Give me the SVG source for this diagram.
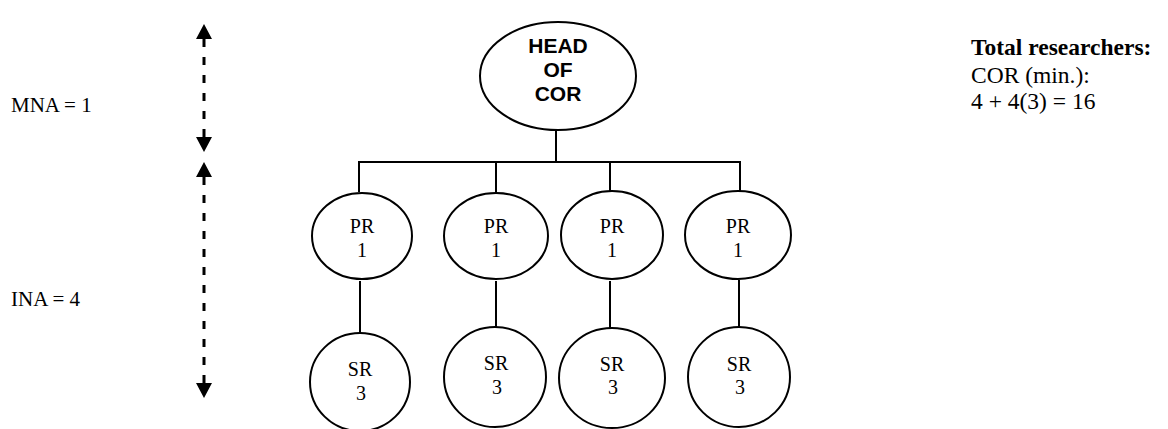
<svg xmlns="http://www.w3.org/2000/svg" width="1168" height="429" viewBox="0 0 1168 429">
<style>
.shape{fill:#fff;stroke:#000;stroke-width:2}
.conn{stroke:#000;stroke-width:2;fill:none}
.dash{stroke:#000;stroke-width:3;stroke-dasharray:8 10;fill:none}
.serif{font-family:"Liberation Serif","Times New Roman",serif;font-size:20px;fill:#000}
.side{font-family:"Liberation Serif","Times New Roman",serif;font-size:21px;fill:#000}
.head{font-family:"Liberation Sans",Arial,sans-serif;font-size:21px;font-weight:bold;fill:#000}
.note{font-family:"Liberation Serif","Times New Roman",serif;font-size:23.5px;fill:#000}
.c{text-anchor:middle}
</style>
<defs>
<marker id="ah" viewBox="0 0 16 16" refX="0" refY="8" markerWidth="16" markerHeight="16" markerUnits="userSpaceOnUse" orient="auto-start-reverse">
<path d="M0,0 L15,8 L0,16 z" fill="#000"/>
</marker>
</defs>
<rect width="1168" height="429" fill="#fff"/>
<g id="connectors">
<line class="dash" x1="204" y1="39" x2="204" y2="137" marker-start="url(#ah)" marker-end="url(#ah)"/>
<line class="dash" x1="204" y1="177" x2="204" y2="383" marker-start="url(#ah)" marker-end="url(#ah)"/>
<line class="conn" x1="556" y1="130" x2="556" y2="162"/>
<line class="conn" x1="358" y1="162" x2="741" y2="162"/>
<line class="conn" x1="359" y1="162" x2="359" y2="192"/>
<line class="conn" x1="496" y1="162" x2="496" y2="192"/>
<line class="conn" x1="610" y1="162" x2="610" y2="192"/>
<line class="conn" x1="740" y1="162" x2="740" y2="192"/>
<line class="conn" x1="360" y1="281" x2="360" y2="339"/>
<line class="conn" x1="496" y1="281" x2="496" y2="331"/>
<line class="conn" x1="610" y1="281" x2="610" y2="330"/>
<line class="conn" x1="739" y1="280" x2="739" y2="327"/>
</g>
<g id="head">
<ellipse class="shape" cx="558" cy="76" rx="78" ry="54"/>
<text class="head c" x="558" y="53">HEAD</text>
<text class="head c" x="558" y="77">OF</text>
<text class="head c" x="558" y="101">COR</text>
</g>
<g id="pr1">
<ellipse class="shape" cx="362" cy="236" rx="50" ry="43"/>
<text class="serif c" x="362" y="233">PR</text>
<text class="serif c" x="362" y="257">1</text>
</g>
<g id="pr2">
<ellipse class="shape" cx="496" cy="236" rx="52" ry="43"/>
<text class="serif c" x="496" y="233">PR</text>
<text class="serif c" x="496" y="257">1</text>
</g>
<g id="pr3">
<ellipse class="shape" cx="612" cy="235" rx="51" ry="44"/>
<text class="serif c" x="612" y="233">PR</text>
<text class="serif c" x="612" y="257">1</text>
</g>
<g id="pr4">
<ellipse class="shape" cx="738" cy="235" rx="53" ry="44"/>
<text class="serif c" x="738" y="233">PR</text>
<text class="serif c" x="738" y="257">1</text>
</g>
<g id="sr1">
<ellipse class="shape" cx="360" cy="382" rx="50" ry="49"/>
<text class="serif c" x="360" y="376">SR</text>
<text class="serif c" x="361" y="400">3</text>
</g>
<g id="sr2">
<ellipse class="shape" cx="495" cy="377" rx="51" ry="50"/>
<text class="serif c" x="496" y="370">SR</text>
<text class="serif c" x="497" y="394">3</text>
</g>
<g id="sr3">
<ellipse class="shape" cx="612" cy="378" rx="53" ry="50"/>
<text class="serif c" x="612" y="371">SR</text>
<text class="serif c" x="613" y="394">3</text>
</g>
<g id="sr4">
<ellipse class="shape" cx="739" cy="377" rx="51" ry="50"/>
<text class="serif c" x="739" y="371">SR</text>
<text class="serif c" x="740" y="394">3</text>
</g>
<g id="labels">
<text class="side" x="11" y="112">MNA = 1</text>
<text class="side" x="11" y="306">INA = 4</text>
<text class="note" x="971" y="55" font-weight="bold">Total researchers:</text>
<text class="note" x="971" y="83">COR (min.):</text>
<text class="note" x="971" y="109">4 + 4(3) = 16</text>
</g>
</svg>
